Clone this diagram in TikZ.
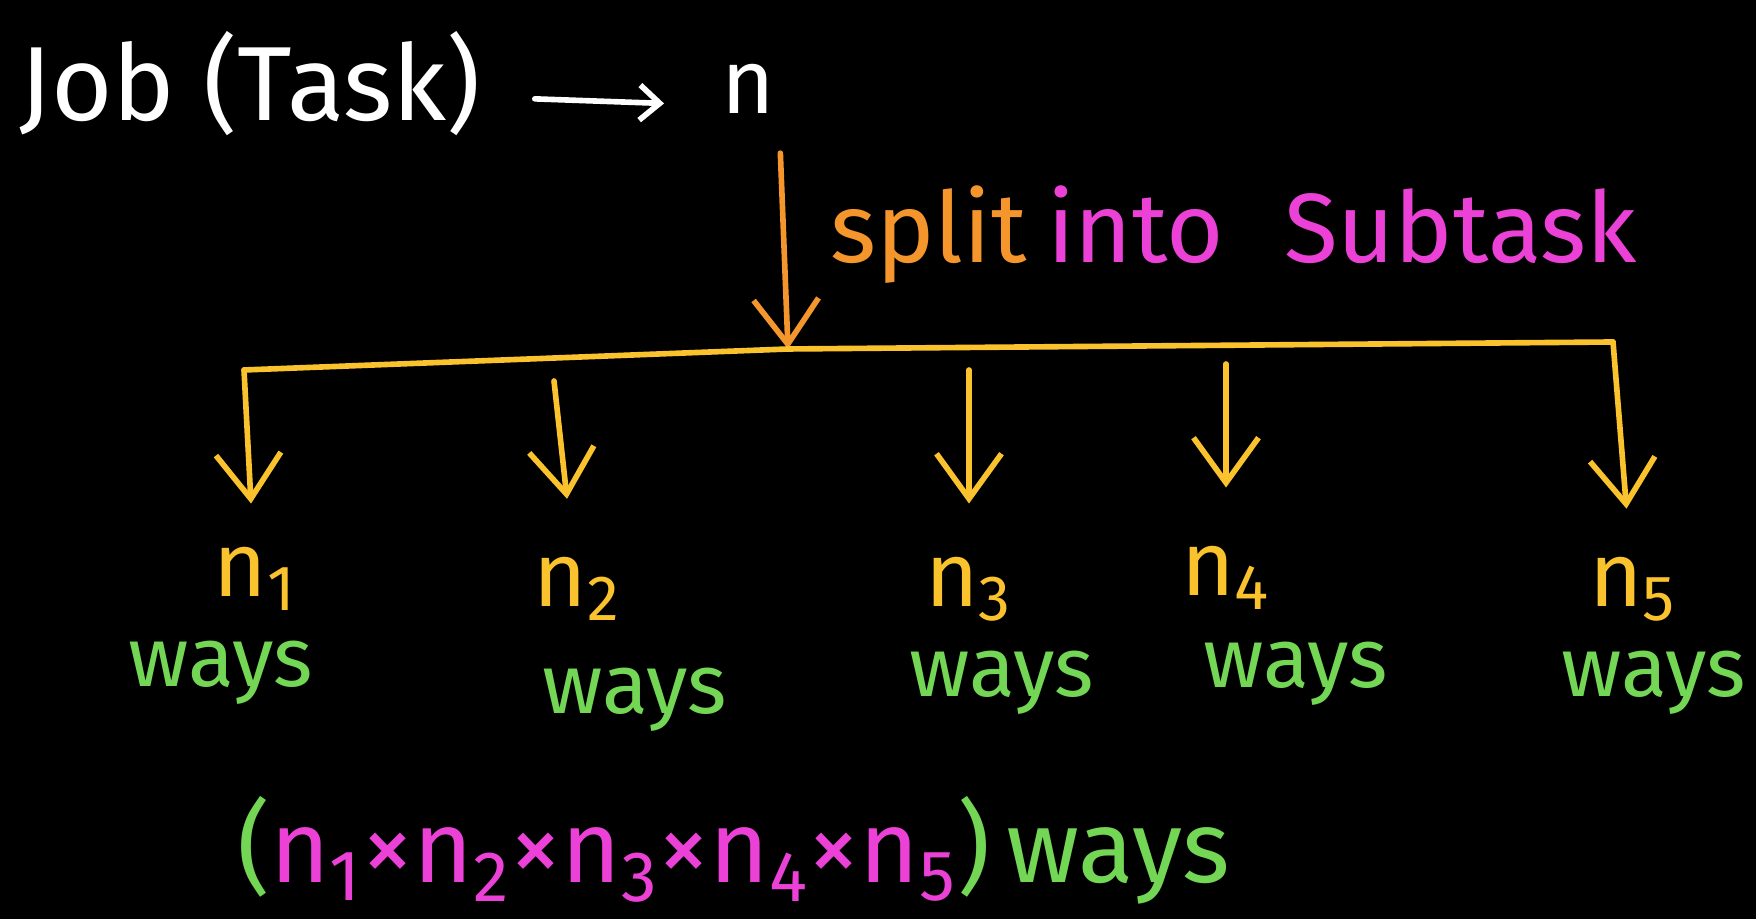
\documentclass[tikz,border=0pt]{standalone}
\usepackage{fontspec}
\setmainfont{Fira Sans}
\usepackage{xcolor}
\usetikzlibrary{arrows.meta,positioning,calc}

\definecolor{chalkorange}{RGB}{245,150,45}
\definecolor{chalkyellow}{RGB}{250,195,45}
\definecolor{chalkgreen}{RGB}{115,215,85}
\definecolor{chalkpink}{RGB}{235,65,215}

\newcommand{\nsub}[1]{n\textsubscript{#1}}

\begin{document}
\begin{tikzpicture}[
    >={Straight Barb[length=4.5mm,width=6.5mm]},
    line cap=round,
    line join=round,
    txt/.style={
        inner sep=1pt,
        text=white,
        font=\fontsize{26}{30}\selectfont
    },
    lbl/.style={
        inner sep=1pt,
        anchor=base,
        text=chalkyellow,
        font=\fontsize{26}{30}\selectfont
    },
    ways/.style={
        inner sep=1pt,
        anchor=base,
        text=chalkgreen,
        font=\fontsize{24}{28}\selectfont
    },
    arr/.style={->, line width=1.6pt, draw=chalkyellow},
    bar/.style={line width=1.6pt, draw=chalkyellow}
]

\fill[black] (0,0) rectangle (17.56,9.19);
\useasboundingbox (0,0) rectangle (17.56,9.19);

\node[txt, anchor=base west, font=\fontsize{30}{34}\selectfont] (job) at (0.15,7.98) {Job (Task)};
\node[txt, anchor=base west] (n) at (7.17,8.05) {n};

\draw[->, >={Straight Barb[length=2mm,width=3.5mm]}, white, line width=1.6pt,
    shorten <=0.5cm, shorten >=0.53cm] ([yshift=-1.3mm]job.east) -- ([yshift=-1.6mm]n.west);

\coordinate (hub) at (7.88,5.70);
\draw[->, line width=1.6pt, draw=chalkorange, shorten <=3.5mm] (n.south east) -- (hub);

\node[txt, anchor=base west, text=chalkorange, font=\fontsize{28}{32}\selectfont] (split) at (8.26,6.56) {split};
\node[txt, base right=0.12cm of split, text=chalkpink, font=\fontsize{28}{32}\selectfont] (into) {into\hspace{0.6cm}Subtask};

\coordinate (bl) at (2.44,5.49);
\coordinate (br) at (16.13,5.77);
\draw[bar] (bl) -- (hub) -- (br);

\node[lbl] (n1) at (2.55,3.22) {\nsub{1}};
\node[lbl] (n2) at (5.77,3.12) {\nsub{2}};
\node[lbl] (n3) at (9.69,3.12) {\nsub{3}};
\node[lbl] (n4) at (12.26,3.23) {\nsub{4}};
\node[lbl] (n5) at (16.33,3.12) {\nsub{5}};

\coordinate (a2) at (5.54,5.38);
\coordinate (a3) at (9.69,5.49);
\coordinate (a4) at (12.26,5.55);

\draw[arr, shorten >=0.4cm] (bl) -- (n1);
\draw[arr, shorten >=0.55cm] (a2) -- (n2);
\draw[arr, shorten >=0.5cm] (a3) -- (n3);
\draw[arr, shorten >=0.55cm] (a4) -- (n4);
\draw[arr, shorten >=0.45cm] (br) -- (n5);

\node[ways] (w1) at (2.21,2.32) {ways};
\node[ways] (w2) at (6.35,2.05) {ways};
\node[ways] (w3) at (10.02,2.22) {ways};
\node[ways] (w4) at (12.96,2.31) {ways};
\node[ways] (w5) at (16.54,2.22) {ways};

\node[txt, anchor=base west, text=chalkgreen, font=\fontsize{29}{33}\selectfont] (total) at (2.33,0.36)
{(\textcolor{chalkpink}{\nsub{1}×\nsub{2}×\nsub{3}×\nsub{4}×\nsub{5}})\,ways};

\end{tikzpicture}
\end{document}
